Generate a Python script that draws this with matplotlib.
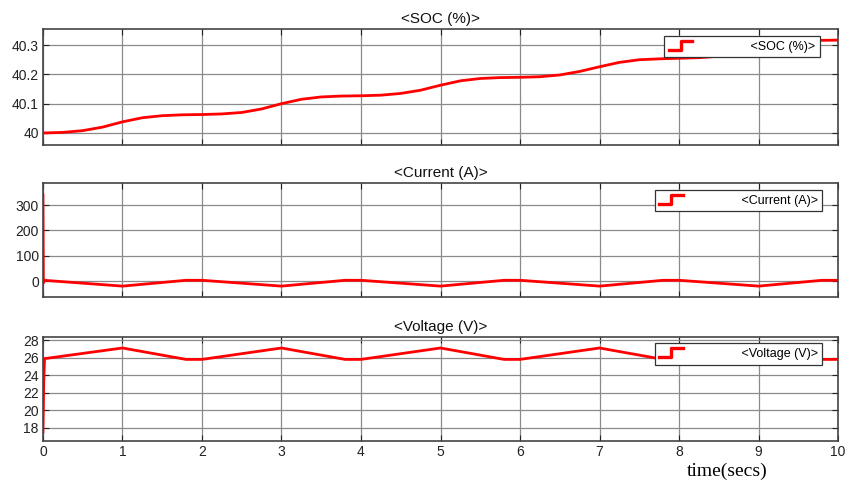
import numpy as np
import matplotlib
matplotlib.use('Agg')
import matplotlib.pyplot as plt
from matplotlib.legend_handler import HandlerBase
from matplotlib.lines import Line2D

plt.rcParams['font.family'] = ['Liberation Sans', 'DejaVu Sans']

# SOC (%)
t_soc = [0, 0.25, 0.5, 0.75, 1, 1.25, 1.5, 1.75, 2, 2.25, 2.5, 2.75, 3, 3.25, 3.5, 3.75,
         4, 4.25, 4.5, 4.75, 5, 5.25, 5.5, 5.75, 6, 6.25, 6.5, 6.75, 7, 7.25, 7.5, 7.75,
         8, 8.25, 8.5, 8.75, 9, 9.25, 9.5, 9.75, 10]
soc = [40.000, 40.002, 40.008, 40.020, 40.038, 40.052, 40.059, 40.062, 40.063, 40.065,
       40.070, 40.082, 40.100, 40.115, 40.123, 40.126, 40.127, 40.129, 40.135, 40.146,
       40.163, 40.178, 40.186, 40.189, 40.190, 40.192, 40.198, 40.210, 40.226, 40.241,
       40.250, 40.253, 40.255, 40.257, 40.262, 40.273, 40.289, 40.304, 40.313, 40.316, 40.317]

# Current (A)
t_cur = [0, 0.005, 0.01, 1, 1.8, 2, 3, 3.8, 4, 5, 5.8, 6, 7, 7.8, 8, 9, 9.8, 10]
current = [340, -8, 3, -20, 3, 3, -20, 3, 3, -20, 3, 3, -20, 3, 3, -20, 3, 3]

# Voltage (V)
t_volt = [0, 0.01, 0.02, 0.03, 1, 1.8, 2, 3, 3.8, 4, 5, 5.8, 6, 7, 7.8, 8, 9, 9.8, 10]
voltage = [17.5, 23.3, 25.9, 25.9, 27.1, 25.8, 25.8, 27.1, 25.8, 25.8, 27.1, 25.8, 25.8,
           27.1, 25.8, 25.8, 27.1, 25.8, 25.8]

titles = ['<SOC (%)>', '<Current (A)>', '<Voltage (V)>']
xticks = list(range(0, 11))


class StepHandler(HandlerBase):
    def create_artists(self, legend, orig_handle, xdescent, ydescent,
                       width, height, fontsize, trans):
        x0 = -xdescent
        w = width * 0.45
        xs = [x0, x0 + w / 2, x0 + w / 2, x0 + w]
        ys = [-ydescent + height * 0.05, -ydescent + height * 0.05,
              -ydescent + height * 0.95, -ydescent + height * 0.95]
        ln = Line2D(xs, ys, color='red', lw=2.4, transform=trans)
        return [ln]


fig = plt.figure(figsize=(8.49, 4.91), dpi=100)
L, W = 0.0506, 0.9365
axs = [fig.add_axes([L, 0.7047, W, 0.2363]),
       fig.add_axes([L, 0.3951, W, 0.2322]),
       fig.add_axes([L, 0.1018, W, 0.2118])]

data = [(t_soc, soc), (t_cur, current), (t_volt, voltage)]
ylims = [(39.959, 40.355), (-63, 387), (16.5, 28.35)]
yticks = [[40, 40.1, 40.2, 40.3], [0, 100, 200, 300], [18, 20, 22, 24, 26, 28]]
ylabels = [['40', '40.1', '40.2', '40.3'], ['0', '100', '200', '300'],
           ['18', '20', '22', '24', '26', '28']]
legpad = ['       ', '       ', '       ']
leganchor = [(0.977, 0.94), (0.98, 0.94), (0.98, 0.94)]

for i, ax in enumerate(axs):
    t, v = data[i]
    h, = ax.plot(t, v, color='red', lw=2)
    ax.set_xlim(0, 10)
    ax.set_ylim(*ylims[i])
    ax.set_xticks(xticks)
    ax.set_yticks(yticks[i])
    ax.set_yticklabels(ylabels[i])
    ax.grid(True, color='#8a8a8a', lw=0.9)
    ax.tick_params(direction='in', top=True, right=True, length=4,
                   color='#222222', labelsize=10, labelcolor='#222222', pad=3)
    for s in ax.spines.values():
        s.set_color('#444444')
        s.set_linewidth(1.2)
    if i < 2:
        ax.set_xticklabels([])
    ax.set_title(titles[i], fontsize=11, pad=4, color='#111111')
    leg = ax.legend([h], [legpad[i] + titles[i]], loc='upper right',
                    handler_map={Line2D: StepHandler()}, fontsize=9,
                    frameon=True, fancybox=False, framealpha=1,
                    edgecolor='#333333', borderpad=0.35, handlelength=4.2,
                    handleheight=0.9, handletextpad=0.4, borderaxespad=0,
                    bbox_to_anchor=leganchor[i])
    leg.get_frame().set_linewidth(0.9)

fig.text(0.856, 0.022, 'time(secs)', family=['Liberation Serif', 'DejaVu Serif'],
         fontsize=14, ha='center', va='bottom')

fig.savefig('out.png', dpi=100)
